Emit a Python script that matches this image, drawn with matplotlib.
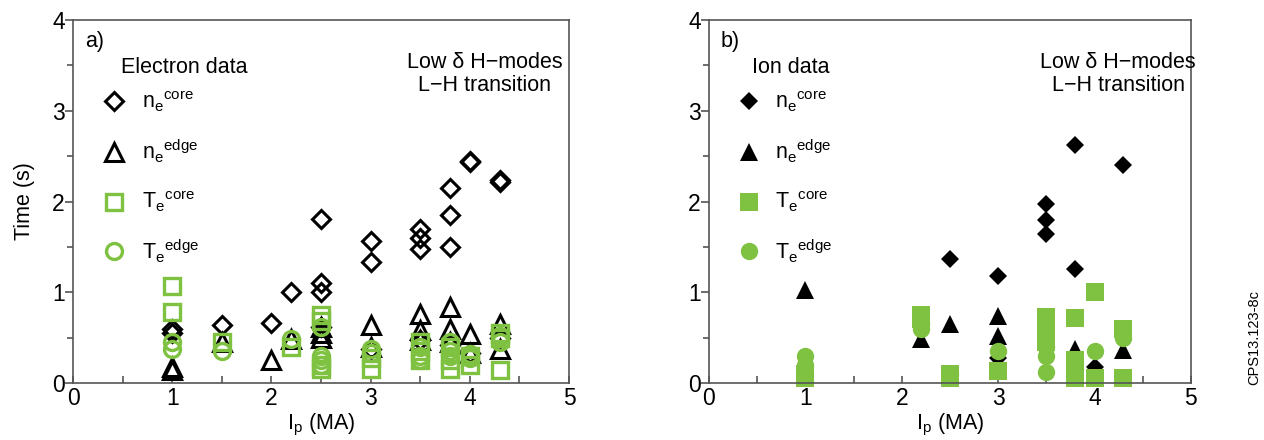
import matplotlib
matplotlib.use("Agg")
import matplotlib.pyplot as plt
from matplotlib.ticker import MultipleLocator

plt.rcParams["font.family"] = ["Liberation Sans", "DejaVu Sans"]
plt.rcParams["mathtext.fontset"] = "custom"
plt.rcParams["mathtext.rm"] = "Liberation Sans"
plt.rcParams["mathtext.it"] = "Liberation Sans:italic"

GREEN = "#7fc241"

# ---------------- a) electron data ----------------
e_ne_core_x = [1.0, 1.0, 1.5, 2.0, 2.2, 2.5, 2.5, 2.5, 2.5, 3.0, 3.0, 3.0,
               3.5, 3.5, 3.5, 3.5, 3.8, 3.8, 3.8, 3.8, 4.0, 4.0, 4.0, 4.3, 4.3, 4.3]
e_ne_core_y = [0.60, 0.55, 0.64, 0.66, 1.00, 1.81, 1.10, 1.00, 0.62, 1.57, 1.33, 0.38,
               1.70, 1.60, 1.48, 0.47, 2.15, 1.85, 1.50, 0.42, 2.45, 2.43, 0.33, 2.24, 2.21, 0.50]

e_ne_edge_x = [1.0, 1.0, 1.5, 2.0, 2.2, 2.5, 2.5, 2.5, 3.0, 3.0, 3.5, 3.5, 3.5,
               3.8, 3.8, 3.8, 4.0, 4.0, 4.3, 4.3]
e_ne_edge_y = [0.18, 0.14, 0.45, 0.25, 0.48, 0.62, 0.55, 0.50, 0.64, 0.40, 0.76, 0.58, 0.47,
               0.84, 0.60, 0.45, 0.54, 0.33, 0.65, 0.38]

e_te_core_x = [1.0, 1.0, 1.5, 2.2, 2.5, 2.5, 2.5, 2.5, 3.0, 3.0, 3.5, 3.5, 3.5,
               3.8, 3.8, 3.8, 4.0, 4.0, 4.3, 4.3, 4.3]
e_te_core_y = [1.07, 0.78, 0.45, 0.40, 0.75, 0.68, 0.20, 0.15, 0.28, 0.15, 0.45, 0.35, 0.25,
               0.40, 0.25, 0.15, 0.30, 0.20, 0.55, 0.50, 0.14]

e_te_edge_x = [1.0, 1.0, 1.5, 2.2, 2.5, 2.5, 2.5, 2.5, 3.0, 3.0, 3.5, 3.5, 3.5,
               3.8, 3.8, 3.8, 4.0, 4.0, 4.3, 4.3]
e_te_edge_y = [0.45, 0.38, 0.35, 0.48, 0.62, 0.30, 0.25, 0.20, 0.38, 0.33, 0.40, 0.30, 0.25,
               0.45, 0.35, 0.30, 0.32, 0.28, 0.52, 0.45]

# ---------------- b) ion data ----------------
i_ne_core_x = [2.5, 3.0, 3.0, 3.5, 3.5, 3.5, 3.8, 3.8, 4.0, 4.3]
i_ne_core_y = [1.37, 1.18, 0.28, 1.97, 1.80, 1.64, 2.62, 1.26, 0.18, 2.40]

i_ne_edge_x = [1.0, 2.2, 2.5, 3.0, 3.0, 3.5, 3.8, 4.0, 4.3]
i_ne_edge_y = [1.03, 0.49, 0.65, 0.74, 0.52, 0.62, 0.38, 0.10, 0.36]

i_te_core_x = [1.0, 1.0, 2.2, 2.2, 2.5, 2.5, 3.0, 3.5, 3.5, 3.5, 3.8, 3.8, 3.8, 3.8,
               4.0, 4.0, 4.3, 4.3]
i_te_core_y = [0.05, 0.10, 0.75, 0.70, 0.10, 0.05, 0.13, 0.73, 0.55, 0.45, 0.72, 0.25, 0.10, 0.05,
               1.00, 0.05, 0.60, 0.05]

i_te_edge_x = [1.0, 1.0, 1.0, 2.2, 2.2, 2.5, 3.0, 3.5, 3.5, 3.5, 3.8, 4.0, 4.3]
i_te_edge_y = [0.30, 0.20, 0.10, 0.65, 0.60, 0.10, 0.35, 0.40, 0.30, 0.12, 0.15, 0.35, 0.50]

legend_labels = [r"n$_\mathregular{e}{}^\mathregular{core}$",
                 r"n$_\mathregular{e}{}^\mathregular{edge}$",
                 r"T$_\mathregular{e}{}^\mathregular{core}$",
                 r"T$_\mathregular{e}{}^\mathregular{edge}$"]

TXT = 15.5
TICK = 16.5

fig = plt.figure(figsize=(12.64, 4.40), dpi=100)
ax_a = fig.add_axes([0.0578, 0.1295, 0.3924, 0.825])
ax_b = fig.add_axes([0.5609, 0.1295, 0.3813, 0.825])


def style_axes(ax):
    ax.set_xlim(0, 5)
    ax.set_ylim(0, 4)
    for s in ax.spines.values():
        s.set_color("#555555")
        s.set_linewidth(1.2)
    ax.xaxis.set_major_locator(MultipleLocator(1))
    ax.xaxis.set_minor_locator(MultipleLocator(0.5))
    ax.yaxis.set_major_locator(MultipleLocator(1))
    ax.yaxis.set_minor_locator(MultipleLocator(0.5))
    ax.tick_params(axis="x", which="both", direction="in", length=5, width=1.2,
                   color="#555555", labelsize=TICK, pad=3, top=False)
    ax.tick_params(axis="y", which="major", direction="out", length=6, width=1.2,
                   color="#555555", labelsize=TICK, pad=0, right=False)
    ax.tick_params(axis="y", which="minor", direction="out", length=4, width=1.2,
                   color="#555555", right=False)
    ax.set_xlabel(r"I$_\mathregular{p}$ (MA)", fontsize=TXT, labelpad=1)


def draw_legend(ax, styles, title, title_x):
    ys = [0.777, 0.637, 0.500, 0.363]
    for (kw, lab, y) in zip(styles, legend_labels, ys):
        ax.plot([0.083], [y], transform=ax.transAxes, clip_on=False, **kw)
        ax.text(0.138, y, lab, transform=ax.transAxes, fontsize=TXT, va="center", ha="left")
    ax.text(title_x, 0.87, title, transform=ax.transAxes, fontsize=TXT, va="center", ha="left")


open_styles = [
    dict(marker="D", ms=9, mfc="none", mec="black", mew=2.2, ls="none"),
    dict(marker="^", ms=12.5, mfc="none", mec="black", mew=2.2, ls="none"),
    dict(marker="s", ms=11.5, mfc="none", mec=GREEN, mew=2.4, ls="none"),
    dict(marker="o", ms=11.5, mfc="none", mec=GREEN, mew=2.4, ls="none"),
]
filled_styles = [
    dict(marker="D", ms=9, mfc="black", mec="black", mew=0, ls="none"),
    dict(marker="^", ms=12.5, mfc="black", mec="black", mew=0, ls="none"),
    dict(marker="s", ms=12.5, mfc=GREEN, mec=GREEN, mew=0, ls="none"),
    dict(marker="o", ms=12.5, mfc=GREEN, mec=GREEN, mew=0, ls="none"),
]

# panel a
style_axes(ax_a)
for (xs, ys), kw in zip([(e_ne_core_x, e_ne_core_y), (e_ne_edge_x, e_ne_edge_y),
                         (e_te_core_x, e_te_core_y), (e_te_edge_x, e_te_edge_y)], open_styles):
    ax_a.plot(xs, ys, clip_on=False, **kw)
draw_legend(ax_a, open_styles, "Electron data", 0.097)
ax_a.text(0.024, 0.94, "a)", transform=ax_a.transAxes, fontsize=TXT, va="center")
ax_a.text(0.83, 0.852, "Low δ H−modes\nL−H transition", transform=ax_a.transAxes,
          fontsize=TXT, ha="center", va="center", linespacing=1.15)
ax_a.set_ylabel("Time (s)", fontsize=TXT, labelpad=12)

# panel b
style_axes(ax_b)
for (xs, ys), kw in zip([(i_ne_core_x, i_ne_core_y), (i_ne_edge_x, i_ne_edge_y),
                         (i_te_core_x, i_te_core_y), (i_te_edge_x, i_te_edge_y)], filled_styles):
    ax_b.plot(xs, ys, clip_on=False, **kw)
draw_legend(ax_b, filled_styles, "Ion data", 0.089)
ax_b.text(0.024, 0.94, "b)", transform=ax_b.transAxes, fontsize=TXT, va="center")
ax_b.text(0.849, 0.852, "Low δ H−modes\nL−H transition", transform=ax_b.transAxes,
          fontsize=TXT, ha="center", va="center", linespacing=1.15)

fig.text(0.9925, 0.125, "CPS13.123-8c", rotation=90, fontsize=10.5, ha="center", va="bottom")

fig.savefig("out.png", dpi=100)
